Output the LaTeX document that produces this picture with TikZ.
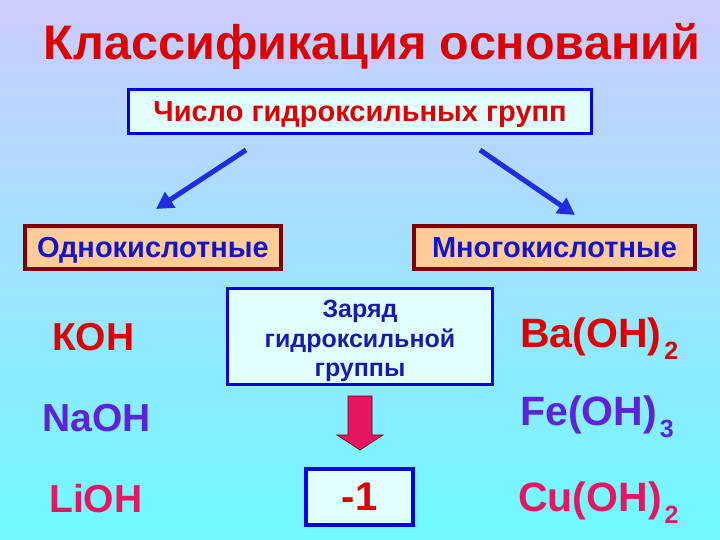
\documentclass[tikz,border=0pt]{standalone}
\usepackage{fontspec}
\setmainfont{Liberation Sans}
\usetikzlibrary{positioning,arrows.meta}

\definecolor{titlered}{RGB}{220,0,0}
\definecolor{navyblue}{RGB}{20,20,200}
\definecolor{deepblue}{RGB}{26,26,170}
\definecolor{boxblue}{RGB}{0,0,230}
\definecolor{arrowblue}{RGB}{30,45,225}
\definecolor{maroon}{RGB}{128,0,0}
\definecolor{peach}{RGB}{255,204,153}
\definecolor{paleaqua}{RGB}{225,255,255}
\definecolor{violet}{RGB}{94,34,216}
\definecolor{crimson}{RGB}{228,22,98}
\definecolor{bgtop}{RGB}{204,204,255}
\definecolor{bgmid}{RGB}{172,222,250}
\definecolor{bgbot}{RGB}{112,250,255}

\newcommand{\sub}[1]{\hspace{3pt}\raisebox{-12pt}{\fontsize{25}{25}\selectfont #1}}

\tikzset{
    bluebox/.style={draw=boxblue, line width=3pt, fill=paleaqua, inner sep=0pt},
    kindbox/.style={draw=maroon, line width=4pt, fill=peach, inner sep=0pt,
        minimum height=43pt, text height=20.8pt, text depth=0pt,
        text=navyblue, font=\fontsize{29}{29}\selectfont\bfseries},
    formula/.style={font=\fontsize{39}{39}\selectfont\bfseries, inner sep=0pt, anchor=base west},
    bluearrow/.style={arrowblue, line width=5pt, -{Triangle[length=17pt,width=18pt]}}
}

\begin{document}
\begin{tikzpicture}[x=1pt,y=-1pt]
\shade[top color=bgtop, middle color=bgmid, bottom color=bgbot] (0,0) rectangle (720,540);
\useasboundingbox (0,0) rectangle (720,540);

% title
\node[font=\fontsize{48.5}{48.5}\selectfont\bfseries, text=titlered] (title) at (372,46) {Классификация оснований};

% number of hydroxyl groups
\node[bluebox, minimum width=463pt, minimum height=44pt, text height=20.8pt, text depth=0pt,
    text=titlered, font=\fontsize{29}{29}\selectfont\bfseries] (groups) at (360,111.5) {Число гидроксильных групп};

\node[kindbox, minimum width=256pt] (mono) at (153,247.5) {Однокислотные};
\node[kindbox, minimum width=281pt] (poly) at (554.5,247.5) {Многокислотные};

\coordinate (lstart) at (246,150);
\coordinate (lend) at (156,209);
\coordinate (rstart) at (480,150);
\coordinate (rend) at (575,215);
\draw[bluearrow] (lstart) -- (lend);
\draw[bluearrow] (rstart) -- (rend);

% charge of the hydroxyl group
\node[bluebox, minimum width=265pt, minimum height=96pt] (charge) at (360,336) {};
\node[text=deepblue, align=center, font=\fontsize{25}{29.5}\selectfont\bfseries]
    (chargetext) at (360,341) {Заряд\\гидроксильной\\группы};

\fill[crimson, draw=red!40!black, line width=0.6pt]
    (348,396) -- (372,396) -- (372,435) -- (383,435) -- (360,450) -- (337,435) -- (348,435) -- cycle;

\node[bluebox, line width=4pt, minimum width=107pt, minimum height=56pt, text=titlered,
    font=\fontsize{40}{40}\selectfont\bfseries] (minus) at (359.5,497) {-1};

% formulas
\node[formula, text=titlered] (koh) at (52,350) {КОН};
\node[formula, text=violet] (naoh) at (42,431) {NaOH};
\node[formula, text=crimson] (lioh) at (49,512) {LiOH};
\node[formula, font=\fontsize{41}{41}\selectfont\bfseries, text=titlered] (baoh) at (520,347) {Ba(OH)\sub{2}};
\node[formula, font=\fontsize{41}{41}\selectfont\bfseries, text=violet] (feoh) at (520,425) {Fe(OH)\sub{3}};
\node[formula, font=\fontsize{41}{41}\selectfont\bfseries, text=crimson] (cuoh) at (518,511) {Cu(OH)\sub{2}};
\end{tikzpicture}
\end{document}
